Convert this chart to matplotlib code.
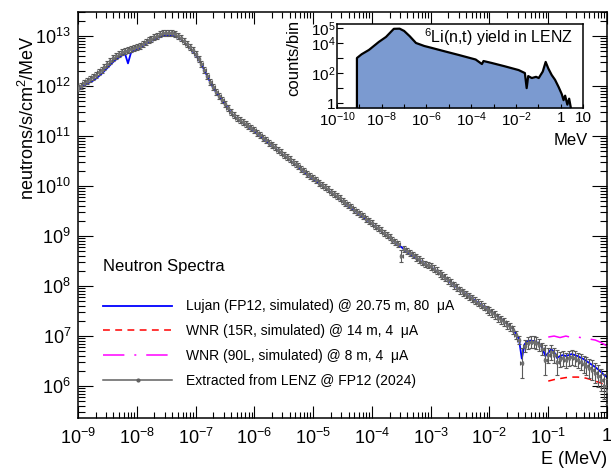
import numpy as np
import matplotlib
matplotlib.use('Agg')
import matplotlib.pyplot as plt
from matplotlib.lines import Line2D

plt.rcParams['font.family'] = ['Liberation Sans', 'DejaVu Sans']
plt.rcParams['mathtext.fontset'] = 'custom'
plt.rcParams['mathtext.rm'] = 'Liberation Sans'
plt.rcParams['mathtext.it'] = 'Liberation Sans:italic'
plt.rcParams['mathtext.bf'] = 'Liberation Sans:bold'

# ---- data (log10 values) ----
# extracted LENZ spectrum, bin centres 20 per decade from 1e-9 to 1 MeV
log_e = np.linspace(-9.0, 0.0, 181)
lenz_log = [
    11.95, 12.00, 12.05, 12.10, 12.14, 12.18, 12.22, 12.27, 12.32, 12.38,
    12.43, 12.49, 12.55, 12.60, 12.64, 12.67, 12.69, 12.71, 12.73, 12.76,
    12.78, 12.80, 12.84, 12.88, 12.91, 12.94, 12.97, 13.00, 13.03, 13.05,
    13.06, 13.06, 13.05, 13.03, 13.00, 12.96, 12.90, 12.84, 12.78, 12.71,
    12.63, 12.54, 12.44, 12.32, 12.20, 12.08, 11.97, 11.88, 11.80, 11.72,
    11.64, 11.56, 11.48, 11.41, 11.36, 11.31, 11.27, 11.23, 11.19, 11.15,
    11.11, 11.06, 11.01, 10.96, 10.91, 10.86, 10.82, 10.77, 10.72, 10.67,
    10.62, 10.58, 10.53, 10.48, 10.43, 10.39, 10.34, 10.29, 10.24, 10.20,
    10.15, 10.11, 10.06, 10.02, 9.97, 9.93, 9.88, 9.84, 9.79, 9.75,
    9.70, 9.66, 9.61, 9.57, 9.52, 9.48, 9.43, 9.39, 9.34, 9.30,
    9.25, 9.20, 9.16, 9.11, 9.06, 9.02, 8.97, 8.92, 8.88, 8.83,
    8.60, 8.74, 8.69, 8.65, 8.61, 8.57, 8.53, 8.49, 8.45, 8.42,
    8.40, 8.35, 8.31, 8.26, 8.21, 8.17, 8.12, 8.07, 8.02, 7.97,
    7.92, 7.88, 7.84, 7.80, 7.76, 7.71, 7.67, 7.63, 7.59, 7.54,
    7.50, 7.46, 7.42, 7.37, 7.33, 7.28, 7.23, 7.18, 7.13, 7.03,
    6.93, 6.46, 6.80, 6.86, 6.88, 6.88, 6.86, 6.82, 6.74, 6.52,
    6.62, 6.68, 6.62, 6.48, 6.54, 6.56, 6.52, 6.56, 6.58, 6.56,
    6.52, 6.48, 6.44, 6.40, 6.36, 6.32, 6.26, 6.20, 6.12, 6.00,
    5.90,
]
# error bars (dex)
lenz_err = ([0.06] * 110 + [0.12] + [0.06] * 9 + [0.07] * 20
            + [0.08] * 11 + [0.3] + [0.12] * 7 + [0.3]
            + [0.15, 0.15, 0.15, 0.25, 0.15, 0.15, 0.15, 0.15, 0.15, 0.15,
               0.15, 0.16, 0.17, 0.18, 0.19, 0.2, 0.2, 0.22, 0.22, 0.25, 0.25])

# Lujan FP12 simulation on the same grid
lujan_log = [
    11.93, 11.97, 12.00, 12.04, 12.07, 12.10, 12.14, 12.19, 12.24, 12.30,
    12.36, 12.42, 12.48, 12.53, 12.57, 12.61, 12.64, 12.45, 12.66, 12.70,
    12.73, 12.76, 12.80, 12.84, 12.87, 12.90, 12.93, 12.96, 12.98, 13.00,
    13.01, 13.01, 13.00, 12.99, 12.97, 12.93, 12.88, 12.82, 12.76, 12.69,
    12.62, 12.53, 12.43, 12.31, 12.19, 12.07, 11.96, 11.87, 11.79, 11.71,
    11.63, 11.55, 11.47, 11.40, 11.35, 11.30, 11.26, 11.22, 11.18, 11.14,
    11.10, 11.05, 11.00, 10.95, 10.90, 10.85, 10.81, 10.76, 10.71, 10.66,
    10.61, 10.57, 10.52, 10.47, 10.42, 10.38, 10.33, 10.28, 10.23, 10.19,
    10.14, 10.10, 10.05, 10.01, 9.96, 9.92, 9.87, 9.83, 9.78, 9.74,
    9.69, 9.65, 9.60, 9.56, 9.51, 9.47, 9.42, 9.38, 9.33, 9.29,
    9.24, 9.19, 9.15, 9.10, 9.05, 9.01, 8.96, 8.91, 8.87, 8.82,
    8.78, 8.73, 8.68, 8.64, 8.60, 8.56, 8.52, 8.48, 8.44, 8.41,
    8.39, 8.34, 8.30, 8.25, 8.20, 8.16, 8.11, 8.06, 8.01, 7.97,
    7.92, 7.88, 7.84, 7.80, 7.76, 7.71, 7.67, 7.63, 7.59, 7.55,
    7.51, 7.47, 7.43, 7.38, 7.34, 7.29, 7.24, 7.19, 7.14, 7.05,
    6.95, 6.55, 6.84, 6.90, 6.91, 6.90, 6.88, 6.84, 6.76, 6.60,
    6.66, 6.74, 6.68, 6.56, 6.60, 6.62, 6.60, 6.62, 6.64, 6.62,
    6.60, 6.57, 6.54, 6.50, 6.46, 6.42, 6.38, 6.33, 6.28, 6.22,
    6.18,
]

# WNR simulations (0.1 - 1 MeV)
wnr_log_e = [-1.0, -0.9, -0.8, -0.7, -0.6, -0.5, -0.4, -0.3, -0.2, -0.1, 0.0]
wnr15r_log = [6.10, 6.13, 6.15, 6.17, 6.18, 6.18, 6.17, 6.14, 6.10, 6.06, 6.00]
wnr90l_log = [6.98, 7.00, 6.97, 7.00, 6.97, 6.98, 6.96, 6.94, 6.92, 6.87, 6.80]

# inset: 6Li(n,t) yield
inset_log_e = [-9.11, -8.9, -8.57, -8.13, -7.81, -7.46, -7.2, -7.0, -6.75,
               -6.47, -6.1, -5.76, -5.2, -4.55, -3.8, -3.52, -3.45, -3.08,
               -2.5, -1.88, -1.6, -1.52, -1.45, -1.29, -1.1, -0.98, -0.8,
               -0.67, -0.55, -0.40, -0.25, -0.09, 0.05, 0.13, 0.2, 0.3,
               0.38, 0.45]
inset_log_c = [3.0, 3.25, 3.54, 4.07, 4.4, 4.94, 4.95, 4.8, 4.45,
               4.0, 3.8, 3.67, 3.45, 3.2, 2.9, 2.6, 2.8, 2.67,
               2.45, 2.2, 2.0, 1.0, 1.8, 1.67, 1.75, 1.67, 2.1,
               2.74, 2.3, 1.87, 1.55, 1.07, 0.6, 0.2, 0.5, -0.1,
               0.3, -0.26]

labels = ['Lujan (FP12, simulated) @ 20.75 m, 80  \u03bcA',
          'WNR (15R, simulated) @ 14 m, 4  \u03bcA',
          'WNR (90L, simulated) @ 8 m, 4  \u03bcA',
          'Extracted from LENZ @ FP12 (2024)']

# ---- figure ----
fig = plt.figure(figsize=(6.11, 4.68), dpi=100)
ax = fig.add_axes([0.1277, 0.1068, 0.8658, 0.8676])

e = 10.0 ** log_e
flux = 10.0 ** np.array(lenz_log)
err = np.array(lenz_err)
yerr = [flux * (1 - 10.0 ** -err), flux * (10.0 ** err - 1)]
xerr = [e * (1 - 10.0 ** -0.025), e * (10.0 ** 0.025 - 1)]

ax.plot(e, 10.0 ** np.array(lujan_log), color='blue', lw=1.3, zorder=2)
ax.errorbar(e, flux, yerr=yerr, xerr=xerr, fmt='o', ms=1.6, color='#707070',
            ecolor='#5a5a5a', elinewidth=0.8, capsize=1.5, capthick=0.8, zorder=3)
we = 10.0 ** np.array(wnr_log_e)
ax.plot(we, 10.0 ** np.array(wnr15r_log), color='red', lw=1.1,
        dashes=(4.5, 3.5), zorder=2)
ax.plot(we, 10.0 ** np.array(wnr90l_log), color='magenta', lw=1.1,
        dashes=(14, 6.5, 1.3, 6.5), zorder=2)

ax.set_xscale('log')
ax.set_yscale('log')
ax.set_xlim(1e-9, 1)
ax.set_ylim(2.3e5, 3.0e13)

xt = 10.0 ** np.arange(-9, 1)
ax.set_xticks(xt, ['$10^{%d}$' % k for k in range(-9, 0)] + ['1'])
yt = 10.0 ** np.arange(6, 14)
ax.set_yticks(yt, ['$10^{%d}$' % k for k in range(6, 14)])
ax.tick_params(which='both', direction='in', top=True, right=True,
               labelsize=13, width=0.8)
ax.tick_params(axis='x', which='major', length=8.5, pad=7)
ax.tick_params(axis='x', which='minor', length=4)
ax.tick_params(axis='y', which='major', length=10.5, pad=5)
ax.tick_params(axis='y', which='minor', length=5)
for s in ax.spines.values():
    s.set_linewidth(1.1)

ax.set_ylabel('neutrons/s/cm$^2$/MeV', fontsize=13)
ax.yaxis.set_label_coords(-0.075, 0.74)
ax.set_xlabel('E (MeV)', fontsize=13, loc='right')
ax.xaxis.set_label_coords(1.0, -0.08)

ax.text(0.047, 0.372, 'Neutron Spectra', transform=ax.transAxes,
        fontsize=12, va='center')
handles = [Line2D([], [], color='blue', lw=1.3),
           Line2D([], [], color='red', lw=1.1, dashes=(4.5, 3.5)),
           Line2D([], [], color='magenta', lw=1.1, dashes=(14, 6.5, 1.3, 6.5)),
           Line2D([], [], color='#606060', lw=1.1, marker='o', ms=2.0)]
ax.legend(handles, labels, loc='upper left', bbox_to_anchor=(0.047, 0.292),
          frameon=False, fontsize=10, handlelength=5.0, handletextpad=1.0,
          labelspacing=0.78, borderpad=0, borderaxespad=0)

# ---- inset ----
ax_in = fig.add_axes([0.5516, 0.769, 0.4026, 0.18])
ylo = 0.47
ie = 10.0 ** np.array(inset_log_e)
ic = 10.0 ** np.array(inset_log_c)
ax_in.fill_between(ie, ic, ylo, color='#7b9ad0', lw=0)
ax_in.plot(np.r_[ie[0], ie], np.r_[ylo, ic], color='black', lw=1.6)
ax_in.set_xscale('log')
ax_in.set_yscale('log')
ax_in.set_xlim(1e-10, 10)
ax_in.set_ylim(ylo, 1.86e5)
ixt = 10.0 ** np.arange(-10, 2)
ilab = {-10: '$10^{-10}$', -8: '$10^{-8}$', -6: '$10^{-6}$', -4: '$10^{-4}$',
        -2: '$10^{-2}$', 0: '1', 1: '10'}
ax_in.set_xticks(ixt, [ilab.get(k, '') for k in range(-10, 2)])
iyt = 10.0 ** np.arange(0, 6)
ylab = {0: '1', 2: '$10^{2}$', 4: '$10^{4}$', 5: '$10^{5}$'}
ax_in.set_yticks(iyt, [ylab.get(k, '') for k in range(0, 6)])
ax_in.xaxis.set_minor_locator(matplotlib.ticker.NullLocator())
ax_in.yaxis.set_minor_locator(matplotlib.ticker.NullLocator())
ax_in.tick_params(which='both', direction='in', labelsize=11, width=0.8)
ax_in.tick_params(axis='x', length=3, pad=2)
ax_in.tick_params(axis='y', length=4, pad=1)
for s in ax_in.spines.values():
    s.set_linewidth(1.1)
ax_in.set_ylabel('counts/bin', fontsize=12)
ax_in.yaxis.set_label_coords(-0.145, 0.6)
ax_in.set_xlabel('MeV', fontsize=12, loc='right')
ax_in.xaxis.set_label_coords(1.02, -0.3)
ax_in.text(0.96, 0.84, '$^{6}$Li(n,t) yield in LENZ', transform=ax_in.transAxes,
           fontsize=11.5, ha='right', va='center')

fig.savefig('out.png', dpi=100)
